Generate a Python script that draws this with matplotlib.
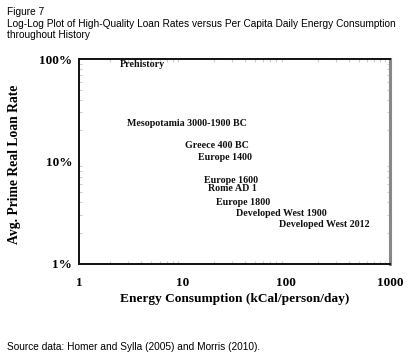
import matplotlib
matplotlib.use("Agg")
import matplotlib.pyplot as plt
from matplotlib.ticker import FixedLocator, NullFormatter, LogLocator

labels = ["Prehistory", "Mesopotamia 3000-1900 BC", "Greece 400 BC", "Europe 1400",
          "Europe 1600", "Rome AD 1", "Europe 1800", "Developed West 1900",
          "Developed West 2012"]
energy = [4.05, 11.0, 21.4, 25.6, 29.2, 30.5, 38.1, 88.7, 230]
rate = [89, 23.2, 14.1, 10.9, 6.5, 5.4, 3.95, 3.07, 2.39]

xticks = [1, 10, 100, 1000]
xticklabels = ["1", "10", "100", "1000"]
yticks = [1, 10, 100]
yticklabels = ["1%", "10%", "100%"]

serif = ["Liberation Serif", "DejaVu Serif"]
sans = ["Liberation Sans", "DejaVu Sans"]

fig = plt.figure(figsize=(4.12, 3.56), dpi=100)
ax = fig.add_axes([79/412, 1-263.5/356, (390-79)/412, (263.5-59)/356])
ax.set_xscale("log")
ax.set_yscale("log")
ax.set_xlim(1, 1000)
ax.set_ylim(1, 100)

for lab, x, y in zip(labels, energy, rate):
    ax.text(x, y, lab, ha="center", va="center", fontsize=7.2, fontweight="bold",
            family=serif, color="#111111")

ax.xaxis.set_major_locator(FixedLocator(xticks))
ax.yaxis.set_major_locator(FixedLocator(yticks))
ax.set_xticklabels(xticklabels, family=serif, fontweight="bold", fontsize=9.5)
ax.set_yticklabels(yticklabels, family=serif, fontweight="bold", fontsize=9.5)
ax.xaxis.set_minor_locator(LogLocator(base=10, subs=range(2, 10)))
ax.yaxis.set_minor_locator(LogLocator(base=10, subs=range(2, 10)))
ax.xaxis.set_minor_formatter(NullFormatter())
ax.yaxis.set_minor_formatter(NullFormatter())
ax.tick_params(which="both", direction="in", top=True, right=True, color="#cccccc")
ax.tick_params(axis="x", which="major", length=0, pad=10)
ax.tick_params(axis="y", which="major", length=0, pad=5)
ax.tick_params(which="minor", length=2.5, width=0.8)

for s in ["left", "bottom", "top"]:
    ax.spines[s].set_linewidth(1.4)
    ax.spines[s].set_color("#111111")
ax.spines["right"].set_linewidth(2.2)
ax.spines["right"].set_color("#888888")

ax.set_xlabel("Energy Consumption (kCal/person/day)", family=serif, fontweight="bold",
              fontsize=9.6)
ax.xaxis.set_label_coords(0.5, -0.145)
ax.set_ylabel("Avg. Prime Real Loan Rate", family=serif, fontweight="bold",
              fontsize=9.8)
ax.yaxis.set_label_coords(-0.185, 0.487)

fig.text(7/412, 1-12/356, "Figure 7", family=sans, fontsize=7.3, va="center")
fig.text(7/412, 1-24/356, "Log-Log Plot of High-Quality Loan Rates versus Per Capita Daily Energy Consumption",
         family=sans, fontsize=7.3, va="center")
fig.text(7/412, 1-35/356, "throughout History", family=sans, fontsize=7.3, va="center")
fig.text(7/412, 1-347/356, "Source data: Homer and Sylla (2005) and Morris (2010).",
         family=sans, fontsize=7.3, va="center")

fig.savefig("out.png", dpi=100)
